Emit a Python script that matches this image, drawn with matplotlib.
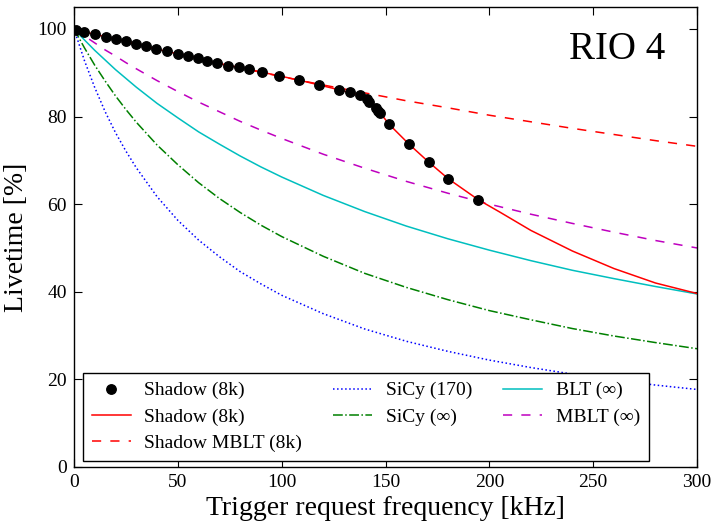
import matplotlib
matplotlib.use("Agg")
import matplotlib.pyplot as plt

# ---- data ----
# measured Shadow (8k) points (kHz, %)
dot_freq = [1, 5, 10.1, 15.3, 20.1, 24.9, 29.9, 34.7, 39.5, 44.6, 49.9, 54.7, 59.5,
            64.2, 69, 74.3, 79.4, 84.3, 90.7, 98.7, 108.5, 118.1, 127.7, 132.8,
            137.7, 140.9, 142.2, 145.4, 146.5, 147.3, 151.8, 161.3, 170.8, 180.2, 194.7]
dot_live = [99.8, 99.3, 98.8, 98.2, 97.6, 97.3, 96.6, 96.0, 95.4, 94.9, 94.3, 93.9, 93.4,
            92.6, 92.2, 91.6, 91.3, 90.8, 90.1, 89.3, 88.3, 87.2, 86.1, 85.5,
            84.9, 84.0, 83.4, 81.9, 81.3, 80.9, 78.2, 73.7, 69.6, 65.8, 61.0]

# Shadow (8k) curve continuation beyond the last measured point
shadow_ext_freq = [205, 220, 240, 260, 280, 300]
shadow_ext_live = [58.2, 54.0, 49.3, 45.3, 42.0, 39.6]

# model curves on common frequency grid
freq = [0, 5, 10, 15, 20, 25, 30, 40, 50, 60, 70, 80, 90, 100,
        120, 140, 160, 180, 200, 220, 240, 260, 280, 300]
shadow_mblt = [100, 99.4, 98.8, 98.2, 97.6, 97.0, 96.5, 95.3, 94.2, 93.2, 92.1, 91.1, 90.1, 89.1,
               87.2, 85.4, 83.6, 82.0, 80.3, 78.8, 77.3, 75.9, 74.5, 73.2]
sicy_170 = [100, 92.8, 86.6, 81.1, 76.3, 72.1, 68.3, 61.7, 56.3, 51.8, 48.0, 44.6, 41.8, 39.2,
            35.0, 31.5, 28.7, 26.4, 24.4, 22.7, 21.2, 19.9, 18.7, 17.7]
sicy_inf = [100, 95.7, 91.7, 88.1, 84.7, 81.6, 78.7, 73.5, 69.0, 64.9, 61.3, 58.1, 55.2, 52.6,
            48.1, 44.2, 41.0, 38.2, 35.7, 33.6, 31.6, 29.9, 28.4, 27.0]
blt_inf = [100, 97.5, 95.1, 92.9, 90.7, 88.7, 86.7, 83.0, 79.7, 76.5, 73.7, 71.0, 68.5, 66.2,
           62.0, 58.3, 55.0, 52.1, 49.5, 47.1, 44.9, 43.0, 41.2, 39.5]
mblt_inf = [100, 98.4, 96.8, 95.2, 93.8, 92.3, 90.9, 88.2, 85.7, 83.3, 81.1, 78.9, 76.9, 75.0,
            71.4, 68.2, 65.2, 62.5, 60.0, 57.7, 55.6, 53.6, 51.7, 50.0]

labels = ["Shadow (8k)", "Shadow (8k)", "Shadow MBLT (8k)", "SiCy (170)",
          "SiCy (\u221e)", "BLT (\u221e)", "MBLT (\u221e)"]

plt.rcParams['font.family'] = ['Liberation Serif', 'DejaVu Serif']
plt.rcParams['mathtext.fontset'] = 'dejavuserif'

fig = plt.figure(figsize=(7.13, 5.24), dpi=100)
ax = fig.add_axes([0.1038, 0.1088, 0.8738, 0.8778])

red = (1, 0, 0)
ax.plot(dot_freq, dot_live, 'o', color='k', ms=6.8, label=labels[0], zorder=5)
ax.plot(dot_freq + shadow_ext_freq, dot_live + shadow_ext_live, '-', color=red, lw=1.1,
        label=labels[1], zorder=4)
ax.plot(freq, shadow_mblt, '--', color=red, lw=1.1, dashes=(6, 6), label=labels[2], zorder=3)
ax.plot(freq, sicy_170, ':', color=(0, 0, 1), lw=1.1, label=labels[3])
ax.plot(freq, sicy_inf, '-.', color=(0, 0.5, 0), lw=1.1, label=labels[4])
ax.plot(freq, blt_inf, '-', color=(0, 0.75, 0.75), lw=1.1, label=labels[5])
ax.plot(freq, mblt_inf, '--', color=(0.75, 0, 0.75), lw=1.1, dashes=(6, 6), label=labels[6])

ax.set_xlim(0, 300)
ax.set_ylim(0, 105)
ax.set_xticks([0, 50, 100, 150, 200, 250, 300])
ax.set_yticks([0, 20, 40, 60, 80, 100])
ax.tick_params(direction='in', top=True, right=True, length=6, width=0.8,
               labelsize=14, pad=5)
for s in ax.spines.values():
    s.set_linewidth(1.0)

ax.set_xlabel("Trigger request frequency [kHz]", fontsize=20, labelpad=4)
ax.set_ylabel("Livetime [%]", fontsize=20, labelpad=6)

ax.text(0.9486, 0.888, "RIO 4", transform=ax.transAxes, ha='right', va='baseline',
        fontsize=28)

leg = ax.legend(ncol=3, loc='lower left', bbox_to_anchor=(0.0144, 0.013),
                borderaxespad=0, fontsize=14, numpoints=1, handlelength=2.0,
                handletextpad=0.7, columnspacing=1.6, labelspacing=0.45,
                fancybox=False, framealpha=1, edgecolor='k', borderpad=0.45)
leg.get_frame().set_linewidth(1.0)

fig.savefig("out.png", dpi=100)
